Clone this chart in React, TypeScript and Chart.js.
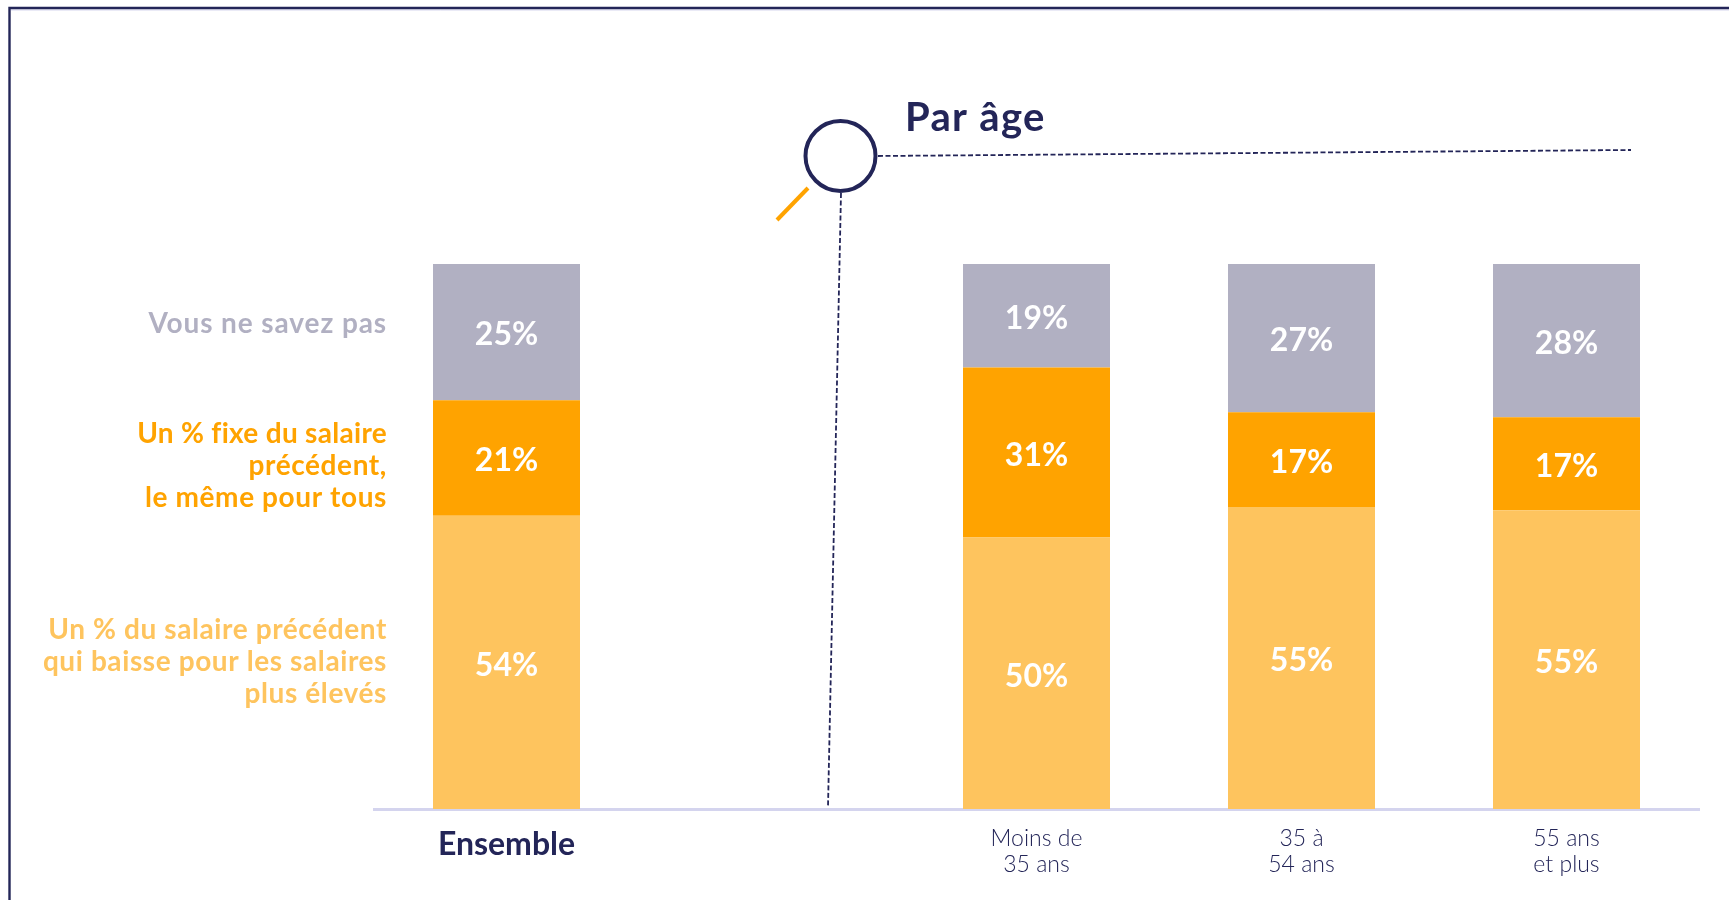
import React, { useEffect, useRef } from "react";
import { Chart, registerables } from "chart.js";

Chart.register(...registerables);

const categories: (string | string[])[] = ["Ensemble", "", ["Moins de", "35 ans"], ["35 à", "54 ans"], ["55 ans", "et plus"]];
const baisseValues: (number | null)[] = [53.8, null, 49.8, 55.4, 54.8];
const fixeValues: (number | null)[] = [21.2, null, 31.2, 17.4, 17.1];
const neSaitPasValues: (number | null)[] = [25, null, 19, 27.2, 28.1];
const seriesNames = ["Un % du salaire précédent qui baisse pour les salaires plus élevés", "Un % fixe du salaire précédent, le même pour tous", "Vous ne savez pas"];
const titleText = "Par âge";

const legendLines = [
  { text: "Vous ne savez pas", color: "#b1b0c2", y: 333, spacing: "0.9px" },
  { text: "Un % fixe du salaire", color: "#ffa300", y: 443, spacing: "0.3px" },
  { text: "précédent,", color: "#ffa300", y: 475, spacing: "0.6px" },
  { text: "le même pour tous", color: "#ffa300", y: 507, spacing: "0.6px" },
  { text: "Un % du salaire précédent", color: "#fec45e", y: 639, spacing: "0.6px" },
  { text: "qui baisse pour les salaires", color: "#fec45e", y: 671, spacing: "0.6px" },
  { text: "plus élevés", color: "#fec45e", y: 703, spacing: "0.6px" },
];

const NAVY = "#232558";
const FONT = "Lato, sans-serif";

const overlay = {
  id: "overlay",
  beforeDatasetsDraw(chart: any) {
    const c = chart.ctx;
    c.save();
    // frame
    c.strokeStyle = "#d6d6ee";
    c.lineWidth = 1;
    c.beginPath();
    c.moveTo(11, 10);
    c.lineTo(1729, 10);
    c.stroke();
    c.strokeStyle = NAVY;
    c.lineWidth = 2.4;
    c.beginPath();
    c.moveTo(9.5, 900);
    c.lineTo(9.5, 8);
    c.lineTo(1729, 8);
    c.stroke();
    // magnifier
    c.lineWidth = 4;
    c.beginPath();
    c.arc(840.5, 156, 35, 0, Math.PI * 2);
    c.stroke();
    c.strokeStyle = "#ffa300";
    c.beginPath();
    c.moveTo(808, 188);
    c.lineTo(777, 220);
    c.stroke();
    // dashed leaders
    c.strokeStyle = NAVY;
    c.lineWidth = 1.8;
    c.setLineDash([5, 2.5]);
    c.beginPath();
    c.moveTo(878, 156);
    c.lineTo(1631, 150);
    c.stroke();
    c.beginPath();
    c.moveTo(841, 193);
    c.lineTo(828, 807);
    c.stroke();
    c.setLineDash([]);
    // title
    c.fillStyle = NAVY;
    c.font = `700 40px ${FONT}`;
    c.letterSpacing = "1.3px";
    c.textAlign = "left";
    c.textBaseline = "alphabetic";
    c.fillText(titleText, 905, 131);
    // series legend
    c.font = `700 28px ${FONT}`;
    c.textAlign = "right";
    for (const l of legendLines) {
      c.letterSpacing = l.spacing;
      c.fillStyle = l.color;
      c.fillText(l.text, 387, l.y);
    }
    c.letterSpacing = "0px";
    c.restore();
  },
  afterDatasetsDraw(chart: any) {
    const c = chart.ctx;
    c.save();
    c.fillStyle = "#ffffff";
    c.font = `700 32px ${FONT}`;
    c.textAlign = "center";
    c.textBaseline = "middle";
    chart.data.datasets.forEach((ds: any, i: number) => {
      chart.getDatasetMeta(i).data.forEach((bar: any, j: number) => {
        const v = ds.data[j];
        if (v == null) return;
        const p = bar.getCenterPoint();
        c.fillText(`${Math.round(v)}%`, p.x, p.y + 3);
      });
    });
    c.restore();
  },
};

export default function App() {
  const ref = useRef<HTMLCanvasElement>(null);
  useEffect(() => {
    document.body.style.margin = "0";
    document.body.style.background = "#ffffff";
    const chart = new Chart(ref.current as HTMLCanvasElement, {
      type: "bar",
      data: {
        labels: categories as any,
        datasets: [
          { label: seriesNames[0], data: baisseValues, backgroundColor: "#fec45e", borderWidth: 0 },
          { label: seriesNames[1], data: fixeValues, backgroundColor: "#ffa300", borderWidth: 0 },
          { label: seriesNames[2], data: neSaitPasValues, backgroundColor: "#b1b0c2", borderWidth: 0 },
        ],
      },
      options: {
        responsive: false,
        animation: false,
        devicePixelRatio: 1,
        layout: { padding: { left: 374, right: 30, top: 264, bottom: 0 } },
        datasets: { bar: { barPercentage: 1, categoryPercentage: 147 / 265 } },
        plugins: { legend: { display: false }, tooltip: { enabled: false }, title: { display: false } },
        scales: {
          x: {
            stacked: true,
            afterFit: (s: any) => { s.height = 91; },
            grid: { display: false, drawTicks: false },
            border: { display: true, color: "#d4d4ee", width: 3 },
            ticks: {
              autoSkip: false,
              maxRotation: 0,
              minRotation: 0,
              padding: 16,
              color: (ctx: any) => NAVY,
              font: (ctx: any) =>
                ctx.index === 0
                  ? { family: FONT, size: 32, weight: "700", lineHeight: 1.2 }
                  : { family: FONT, size: 23, weight: "300", lineHeight: 1.14 },
            },
          },
          y: { stacked: true, display: false, min: 0, max: 100 },
        },
      },
      plugins: [overlay],
    } as any);
    return () => chart.destroy();
  }, []);
  return <canvas ref={ref} width={1729} height={900} style={{ display: "block" }} />;
}
